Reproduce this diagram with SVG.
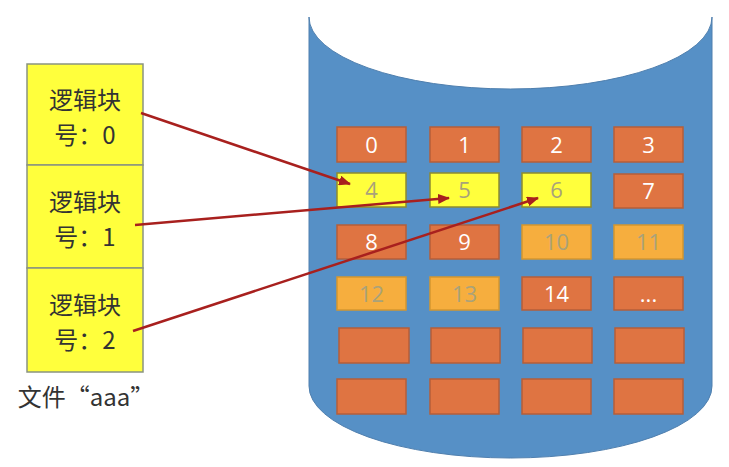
<svg xmlns="http://www.w3.org/2000/svg" width="729" height="467" viewBox="0 0 729 467">
<style>
.blk{fill:#DF7442;stroke:#B55E3A;stroke-width:1.5}
.yel{fill:#FFFF3C;stroke:#8C8A30;stroke-width:1.5}
.lor{fill:#F6AE3E;stroke:#D4962F;stroke-width:1.5}
.num{font-family:"Open Sans","Liberation Sans",sans-serif;font-size:22px;text-anchor:middle;fill:#FFFFFF}
.gr{fill:#A9A27A}
.lb{fill:#FFFF3C;stroke:#8A9480;stroke-width:1.5}
.lt{font-family:"Noto Sans CJK SC","Noto Sans",sans-serif;font-size:24px;fill:#333333;text-anchor:middle}
.arr{fill:none;stroke:#A8201E;stroke-width:2.5;marker-end:url(#ah)}
</style>
<defs>
<marker id="ah" markerWidth="12" markerHeight="10" refX="11" refY="5" orient="auto" markerUnits="userSpaceOnUse">
<path d="M0,0 L12,5 L0,10 Z" fill="#A8201E"/>
</marker>
</defs>
<rect width="729" height="467" fill="#FFFFFF"/>
<g id="disk">
<path d="M309,17 L309,386 A201.5,72 0 0 0 712,386 L712,17 A201.5,72 0 0 1 309,17 Z" fill="#5690C6" stroke="#4F7FAE" stroke-width="1"/>
</g>
<g id="blocks">
<g id="b0"><rect class="blk" x="337" y="127" width="69" height="35"/><text class="num" x="371.5" y="152.5">0</text></g>
<g id="b1"><rect class="blk" x="430" y="127" width="69" height="35"/><text class="num" x="464.5" y="152.5">1</text></g>
<g id="b2"><rect class="blk" x="522" y="127" width="69" height="35"/><text class="num" x="556.5" y="152.5">2</text></g>
<g id="b3"><rect class="blk" x="614" y="127" width="69" height="35"/><text class="num" x="648.5" y="152.5">3</text></g>
<g id="b4"><rect class="yel" x="337" y="173" width="69" height="34"/><text class="num gr" x="371.5" y="198">4</text></g>
<g id="b5"><rect class="yel" x="430" y="173" width="69" height="34"/><text class="num gr" x="464.5" y="198">5</text></g>
<g id="b6"><rect class="yel" x="522" y="173" width="69" height="34"/><text class="num gr" x="556.5" y="198">6</text></g>
<g id="b7"><rect class="blk" x="614" y="174" width="69" height="34"/><text class="num" x="648.5" y="199">7</text></g>
<g id="b8"><rect class="blk" x="337" y="225" width="69" height="34"/><text class="num" x="371.5" y="250">8</text></g>
<g id="b9"><rect class="blk" x="430" y="225" width="69" height="34"/><text class="num" x="464.5" y="250">9</text></g>
<g id="b10"><rect class="lor" x="522" y="225" width="69" height="34"/><text class="num gr" x="556.5" y="250">10</text></g>
<g id="b11"><rect class="lor" x="614" y="225" width="69" height="34"/><text class="num gr" x="648.5" y="250">11</text></g>
<g id="b12"><rect class="lor" x="337" y="277" width="69" height="33"/><text class="num gr" x="371.5" y="301.5">12</text></g>
<g id="b13"><rect class="lor" x="430" y="277" width="69" height="33"/><text class="num gr" x="464.5" y="301.5">13</text></g>
<g id="b14"><rect class="blk" x="522" y="277" width="69" height="33"/><text class="num" x="556.5" y="301.5">14</text></g>
<g id="b15"><rect class="blk" x="614" y="277" width="69" height="33"/><text class="num" x="648.5" y="301.5">...</text></g>
<g id="b16"><rect class="blk" x="339" y="328" width="70" height="35"/></g>
<g id="b17"><rect class="blk" x="431" y="328" width="69" height="35"/></g>
<g id="b18"><rect class="blk" x="523" y="328" width="69" height="35"/></g>
<g id="b19"><rect class="blk" x="615" y="328" width="69" height="35"/></g>
<g id="b20"><rect class="blk" x="337" y="379" width="69" height="35"/></g>
<g id="b21"><rect class="blk" x="430" y="379" width="69" height="35"/></g>
<g id="b22"><rect class="blk" x="522" y="379" width="69" height="35"/></g>
<g id="b23"><rect class="blk" x="614" y="379" width="69" height="35"/></g>
</g>
<g id="file">
<g id="lb0"><rect class="lb" x="27" y="64" width="116" height="101"/><text class="lt"><tspan x="85" y="108.5">逻辑块</tspan><tspan x="85" y="143.5">号：0</tspan></text></g>
<g id="lb1"><rect class="lb" x="27" y="165" width="116" height="103"/><text class="lt"><tspan x="85" y="210.5">逻辑块</tspan><tspan x="85" y="245.5">号：1</tspan></text></g>
<g id="lb2"><rect class="lb" x="27" y="268" width="116" height="104"/><text class="lt"><tspan x="85" y="314">逻辑块</tspan><tspan x="85" y="349">号：2</tspan></text></g>
<text class="lt" x="86" y="406">文件“aaa”</text>
</g>
<g id="connectors">
<path class="arr" d="M141,113 L350,184"/>
<path class="arr" d="M135,225 L449,198"/>
<path class="arr" d="M133,331 L538,198"/>
</g>
</svg>
